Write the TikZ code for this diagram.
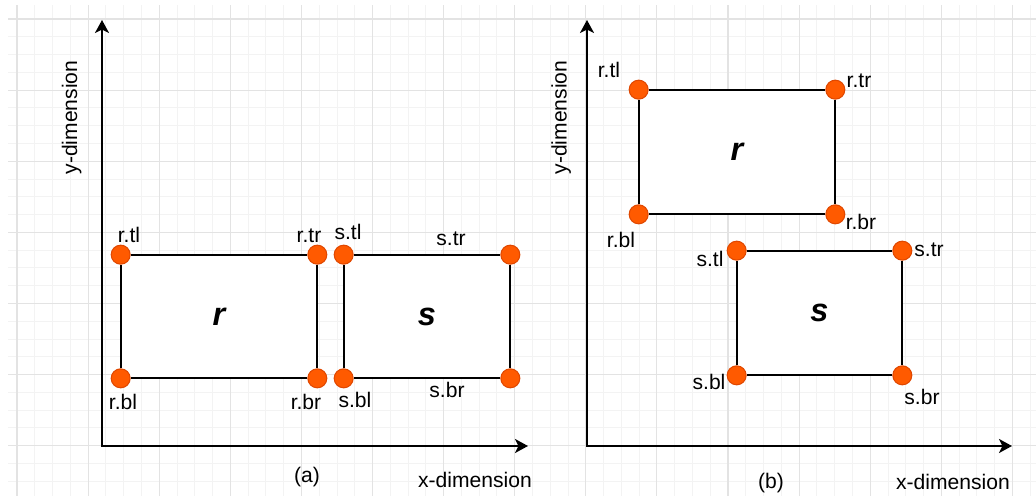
\documentclass[tikz,border=0pt]{standalone}
\usepackage{fontspec}
\setmainfont{Liberation Sans}
\usetikzlibrary{arrows.meta}
\definecolor{dotOrange}{HTML}{FF5A00}
\definecolor{dotLine}{HTML}{E04800}
\definecolor{gridMajor}{HTML}{E3E3E3}
\definecolor{gridMinor}{HTML}{F3F3F3}
\tikzset{
    corner/.style={circle,draw=dotLine,fill=dotOrange,line width=0.6pt,
        minimum size=0.38cm,inner sep=0pt},
    box/.style={fill=white,inner sep=0pt,
        font=\fontsize{18.5}{20}\selectfont\bfseries\itshape},
    edge/.style={draw=black,line width=1.1pt},
    axis/.style={arrows={Stealth[length=0.26cm,width=0.28cm,inset=0.07cm]-Stealth[length=0.26cm,width=0.28cm,inset=0.07cm]},
        draw=black,line width=1.5pt},
    tag/.style={anchor=base,inner sep=0pt,font=\fontsize{12}{14}\selectfont},
    gridmajor/.style={draw=gridMajor,line width=0.6pt},
    gridminor/.style={draw=gridMinor,line width=0.5pt}
}
\begin{document}
\begin{tikzpicture}[x=0.02cm,y=-0.02cm]
    \useasboundingbox (0,0) rectangle (1036,496);
    % 背景网格
    \begin{scope}
        \clip (8,6) rectangle (1036,496);
        \foreach \i in {0,...,58} \draw[gridminor] ({-0.775+17.775*\i},0) -- ++(0,496);
        \foreach \j in {0,...,28} \draw[gridminor] (0,{1.225+17.775*\j}) -- ++(1036,0);
        \foreach \i in {0,...,14} \draw[gridmajor] ({17+71.1*\i},0) -- ++(0,496);
        \foreach \j in {0,...,6} \draw[gridmajor] (0,{19+71.1*\j}) -- ++(1036,0);
    \end{scope}

    % (a) 坐标轴
    \coordinate (ya) at (102,20);
    \coordinate (oa) at (102,446);
    \coordinate (xa) at (528,446);
    \draw[axis] (ya) -- (oa) -- (xa);
    \node[tag,rotate=90] (ya-txt) at (77,117.5) {y-dimension};
    \node[tag] (xa-txt) at (475,488) {x-dimension};
    \node[tag] (cap-a) at (307,483) {(a)};

    % (a) 矩形 r 与 s 并排
    \node[box,minimum width=3.92cm,minimum height=2.46cm] (ra) at (219,316.5) {r};
    \node[corner] (ra-tl) at (ra.north west) {};
    \node[corner] (ra-tr) at (ra.north east) {};
    \node[corner] (ra-bl) at (ra.south west) {};
    \node[corner] (ra-br) at (ra.south east) {};
    \draw[edge] (ra-tl) -- (ra-tr);
    \draw[edge] (ra-tr) -- (ra-br);
    \draw[edge] (ra-br) -- (ra-bl);
    \draw[edge] (ra-bl) -- (ra-tl);
    \node[tag] (ra-tl-txt) at (129,243) {r.tl};
    \node[tag] (ra-tr-txt) at (309,243) {r.tr};
    \node[tag] (ra-bl-txt) at (123,410) {r.bl};
    \node[tag] (ra-br-txt) at (306,410) {r.br};

    \node[box,minimum width=3.32cm,minimum height=2.46cm] (sa) at (427,316.5) {s};
    \node[corner] (sa-tl) at (sa.north west) {};
    \node[corner] (sa-tr) at (sa.north east) {};
    \node[corner] (sa-bl) at (sa.south west) {};
    \node[corner] (sa-br) at (sa.south east) {};
    \draw[edge] (sa-tl) -- (sa-tr);
    \draw[edge] (sa-tr) -- (sa-br);
    \draw[edge] (sa-br) -- (sa-bl);
    \draw[edge] (sa-bl) -- (sa-tl);
    \node[tag] (sa-tl-txt) at (348,240) {s.tl};
    \node[tag] (sa-tr-txt) at (451,246) {s.tr};
    \node[tag] (sa-bl-txt) at (355,408) {s.bl};
    \node[tag] (sa-br-txt) at (447,398) {s.br};

    % (b) 坐标轴
    \coordinate (yb) at (587,20);
    \coordinate (ob) at (587,446);
    \coordinate (xb) at (1012,446);
    \draw[axis] (yb) -- (ob) -- (xb);
    \node[tag,rotate=90] (yb-txt) at (566.5,117.5) {y-dimension};
    \node[tag] (xb-txt) at (953,490) {x-dimension};
    \node[tag] (cap-b) at (771,489) {(b)};

    % (b) 矩形 r 在上，s 在右下
    \node[box,minimum width=3.92cm,minimum height=2.48cm] (rb) at (737,152) {r};
    \node[corner] (rb-tl) at (rb.north west) {};
    \node[corner] (rb-tr) at (rb.north east) {};
    \node[corner] (rb-bl) at (rb.south west) {};
    \node[corner] (rb-br) at (rb.south east) {};
    \draw[edge] (rb-tl) -- (rb-tr);
    \draw[edge] (rb-tr) -- (rb-br);
    \draw[edge] (rb-br) -- (rb-bl);
    \draw[edge] (rb-bl) -- (rb-tl);
    \node[tag] (rb-tl-txt) at (609,78) {r.tl};
    \node[tag] (rb-tr-txt) at (859,88) {r.tr};
    \node[tag] (rb-bl-txt) at (621,248) {r.bl};
    \node[tag] (rb-br-txt) at (861,230) {r.br};

    \node[box,minimum width=3.30cm,minimum height=2.48cm] (sb) at (819.5,313) {s};
    \node[corner] (sb-tl) at (sb.north west) {};
    \node[corner] (sb-tr) at (sb.north east) {};
    \node[corner] (sb-bl) at (sb.south west) {};
    \node[corner] (sb-br) at (sb.south east) {};
    \draw[edge] (sb-tl) -- (sb-tr);
    \draw[edge] (sb-tr) -- (sb-br);
    \draw[edge] (sb-br) -- (sb-bl);
    \draw[edge] (sb-bl) -- (sb-tl);
    \node[tag] (sb-tl-txt) at (710,267) {s.tl};
    \node[tag] (sb-tr-txt) at (929,257) {s.tr};
    \node[tag] (sb-bl-txt) at (709,390) {s.bl};
    \node[tag] (sb-br-txt) at (922,405) {s.br};
\end{tikzpicture}
\end{document}
